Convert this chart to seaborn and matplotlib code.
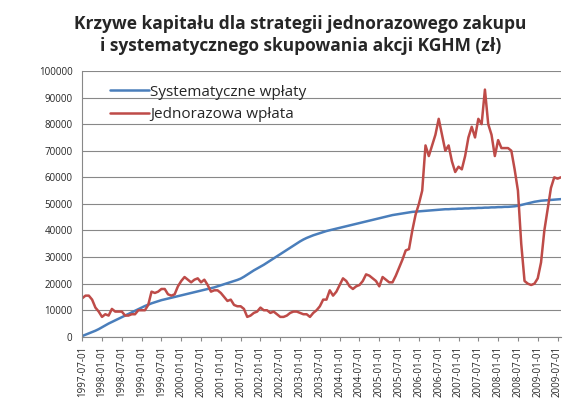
import matplotlib
matplotlib.use("Agg")
import matplotlib.pyplot as plt
import seaborn as sns
import pandas as pd
import numpy as np

systematic = [0.3,0.8,1.3,1.8,2.3,2.9,3.6,4.3,5.0,5.6,6.2,6.8,
 7.4,8.0,8.6,9.2,9.8,10.4,11.0,11.6,12.1,12.6,13.0,13.4,
 13.8,14.1,14.4,14.7,15.0,15.3,15.6,15.9,16.2,16.5,16.8,17.1,
 17.4,17.7,18.0,18.3,18.6,19.0,19.4,19.8,20.2,20.6,21.0,21.4,
 21.9,22.6,23.4,24.2,25.0,25.7,26.4,27.1,27.9,28.7,29.5,30.3,
 31.1,31.9,32.7,33.5,34.3,35.1,35.9,36.6,37.2,37.7,38.2,38.6,
 39.0,39.4,39.8,40.1,40.4,40.7,41.0,41.3,41.6,41.9,42.2,42.5,
 42.8,43.1,43.4,43.7,44.0,44.3,44.6,44.9,45.2,45.5,45.8,46.0,
 46.2,46.4,46.6,46.8,47.0,47.1,47.2,47.3,47.4,47.5,47.6,47.7,
 47.8,47.9,48.0,48.0,48.1,48.1,48.2,48.2,48.3,48.3,48.4,48.4,
 48.5,48.5,48.6,48.6,48.7,48.7,48.8,48.8,48.9,48.9,49.0,49.1,
 49.3,49.6,49.9,50.2,50.5,50.8,51.0,51.2,51.3,51.4,51.5,51.6,51.7,51.8]

lump_sum = [14.5,15.5,15.5,14,11,9.5,7.5,8.5,8,10.5,9.5,9.5,
 9.5,8,8,8.5,8.5,10,10,10,12,17,16.5,17,
 18,18,16,15.5,16,19,21,22.5,21.5,20.5,21.5,22,
 20.5,21.5,19.5,17,17.5,17.5,16.5,15,13.5,14,12,11.5,
 11.5,10.5,7.5,8,9,9.5,11,10,10,9,9.5,8.5,
 7.5,7.5,8,9,9.5,9.5,9,8.5,8.5,7.5,9,10,
 11.5,14,14,17.5,15.5,17,19.5,22,21,19,18,19,
 19.5,21,23.5,23,22,21,19,22.5,21.5,20.5,20.5,23,
 26,29,32.5,33,40,46,50,55,72,68,72,76,
 82,76,70,72,66,62,64,63,68,75,79,75,
 82,80,93,80,76,68,74,71,71,71,70,63,
 55,35,21,20,19.5,20,22,28,40,48,56,60,59.5,60]

tick_labels = ["1997-07-01","1998-01-01","1998-07-01","1999-01-01","1999-07-01",
 "2000-01-01","2000-07-01","2001-01-01","2001-07-01","2002-01-01","2002-07-01",
 "2003-01-01","2003-07-01","2004-01-01","2004-07-01","2005-01-01","2005-07-01",
 "2006-01-01","2006-07-01","2007-01-01","2007-07-01","2008-01-01","2008-07-01",
 "2009-01-01","2009-07-01"]

n = len(systematic)
df = pd.DataFrame({
    "m": list(range(n)) * 2,
    "v": [v * 1000 for v in systematic] + [v * 1000 for v in lump_sum],
    "s": ["Systematyczne wpłaty"] * n + ["Jednorazowa wpłata"] * n,
})

sns.set_style("white")
plt.rcParams["font.family"] = ["Open Sans", "DejaVu Sans"]
fig = plt.figure(figsize=(5.83, 4.2), dpi=100)
ax = fig.add_axes([0.141, 0.198, 0.821, 0.633])
sns.lineplot(data=df, x="m", y="v", hue="s",
             palette={"Systematyczne wpłaty": "#4a7ebb", "Jednorazowa wpłata": "#be4b48"},
             linewidth=1.8, ax=ax)
ax.set_xlim(0, n - 1)
ax.set_ylim(0, 100000)
ax.set_yticks(np.arange(0, 100001, 10000))
ax.set_yticklabels([str(int(t)) for t in np.arange(0, 100001, 10000)], fontsize=7)
ax.set_xticks(np.arange(0, 6 * len(tick_labels), 6))
ax.set_xticklabels(tick_labels, rotation=90, fontsize=7)
ax.tick_params(axis="x", length=3, direction="out", bottom=True, color="#888888")
ax.grid(axis="y", color="#888888", linewidth=0.8)
for s in ["top", "right"]:
    ax.spines[s].set_visible(False)
for s in ["left", "bottom"]:
    ax.spines[s].set_color("#888888")
ax.set_xlabel("")
ax.set_ylabel("")
leg = ax.legend(loc="upper left", frameon=False, fontsize=11, handlelength=2.5,
                bbox_to_anchor=(0.03, 1.0), labelspacing=0.5, handletextpad=0.1)
fig.text(0.515, 0.965, "Krzywe kapitału dla strategii jednorazowego zakupu\n"
         "i systematycznego skupowania akcji KGHM (zł)",
         ha="center", va="top", fontsize=12.5, fontweight="bold", linespacing=1.3)
fig.savefig("out.png", dpi=100)
